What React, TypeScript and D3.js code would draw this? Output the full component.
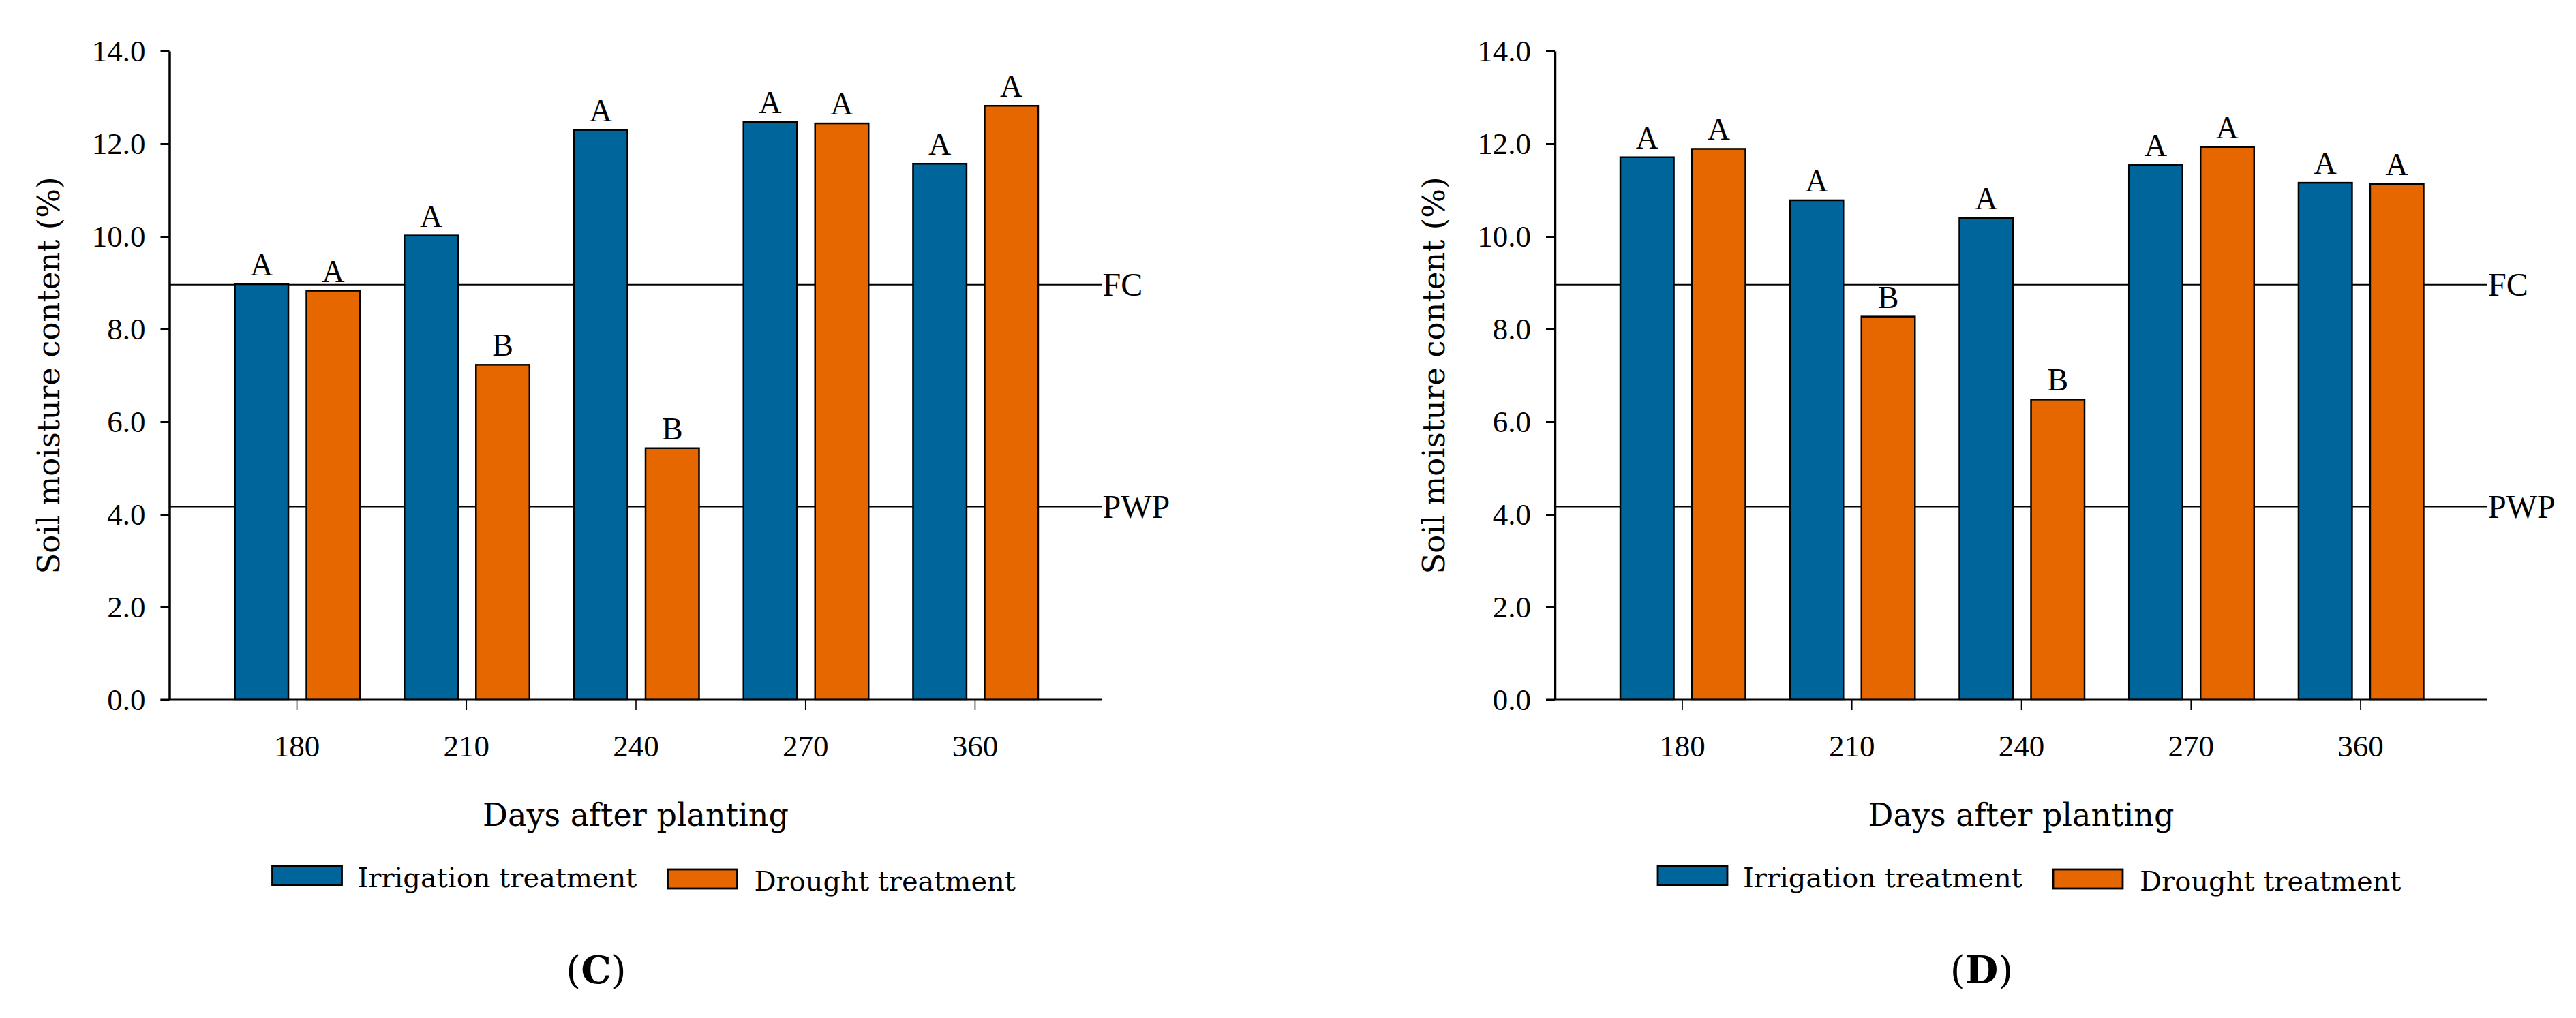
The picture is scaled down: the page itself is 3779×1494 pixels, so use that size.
import React, { useEffect, useRef } from "react";
import * as d3 from "d3";

// ---------- data ----------
const categories = ["180", "210", "240", "270", "360"];
const seriesNames = ["Irrigation treatment", "Drought treatment"];
const seriesColors = ["#00659B", "#E66700"];

const irrigationC = [8.97, 10.02, 12.3, 12.47, 11.57];
const droughtC = [8.83, 7.23, 5.43, 12.44, 12.82];
const lettersIrrC = ["A", "A", "A", "A", "A"];
const lettersDrC = ["A", "B", "B", "A", "A"];

const irrigationD = [11.71, 10.78, 10.4, 11.54, 11.16];
const droughtD = [11.89, 8.27, 6.48, 11.93, 11.13];
const lettersIrrD = ["A", "A", "A", "A", "A"];
const lettersDrD = ["A", "B", "B", "A", "A"];

const yTicks = [0, 2, 4, 6, 8, 10, 12, 14];
const refLabels = ["FC", "PWP"];
const refValues = [8.96, 4.17];

const panelLabels = ["C", "D"];
const xTitle = "Days after planting";
const yTitle = "Soil moisture content (%)";

// ---------- layout ----------
const W = 3779;
const H = 1494;
const TOP = 75;
const BOTTOM = 1027;
const PLOT_W = 1368;
const PANEL_X = [248.5, 2281];
const BAR_W = 78.5;

const NUM_FONT = "'Liberation Serif', 'Times New Roman', serif";
const TXT_FONT = "'DejaVu Serif', serif";

interface PanelProps {
  axisX: number;
  irr: number[];
  dr: number[];
  lIrr: string[];
  lDr: string[];
  label: string;
}

function Panel({ axisX, irr, dr, lIrr, lDr, label }: PanelProps) {
  const ref = useRef<SVGGElement>(null);

  useEffect(() => {
    const g = d3.select(ref.current);
    g.selectAll("*").remove();

    const x = d3
      .scalePoint<string>()
      .domain(categories)
      .range([axisX, axisX + PLOT_W])
      .padding(0.75);
    const y = d3.scaleLinear().domain([0, 14]).range([BOTTOM, TOP]);

    // reference lines
    refValues.forEach((v, i) => {
      g.append("line")
        .attr("x1", axisX)
        .attr("x2", axisX + PLOT_W)
        .attr("y1", y(v))
        .attr("y2", y(v))
        .attr("stroke", "#000")
        .attr("stroke-width", 2);
      g.append("text")
        .attr("x", axisX + PLOT_W + 1)
        .attr("y", y(v))
        .attr("dy", "0.34em")
        .attr("font-family", NUM_FONT)
        .attr("font-size", 48)
        .attr("fill", "#000")
        .text(refLabels[i]);
    });

    const series = [
      { vals: irr, letters: lIrr, off: -90.5, color: seriesColors[0] },
      { vals: dr, letters: lDr, off: 14.5, color: seriesColors[1] },
    ];

    series.forEach((s) => {
      const data = categories.map((c, i) => ({ c, v: s.vals[i], l: s.letters[i] }));
      g.append("g")
        .selectAll("rect")
        .data(data)
        .join("rect")
        .attr("x", (d) => (x(d.c) as number) + s.off)
        .attr("y", (d) => y(d.v))
        .attr("width", BAR_W)
        .attr("height", (d) => y(0) - y(d.v))
        .attr("fill", s.color)
        .attr("stroke", "#000")
        .attr("stroke-width", 2.5);
      g.append("g")
        .selectAll("text")
        .data(data)
        .join("text")
        .attr("x", (d) => (x(d.c) as number) + s.off + BAR_W / 2)
        .attr("y", (d) => y(d.v) - 13)
        .attr("text-anchor", "middle")
        .attr("font-family", NUM_FONT)
        .attr("font-size", 46)
        .attr("fill", "#000")
        .text((d) => d.l);
    });

    // y axis
    const ya = g
      .append("g")
      .attr("transform", `translate(${axisX},0)`)
      .call(
        d3
          .axisLeft(y)
          .tickValues(yTicks)
          .tickFormat(d3.format(".1f"))
          .tickSize(13)
          .tickSizeOuter(0)
          .tickPadding(22)
      );
    ya.select(".domain").attr("stroke", "#000").attr("stroke-width", 3.5);
    ya.selectAll(".tick line").attr("stroke", "#000").attr("stroke-width", 3);
    ya.selectAll(".tick text")
      .attr("font-family", NUM_FONT)
      .attr("font-size", 45)
      .attr("fill", "#000");

    // x axis
    const xa = g
      .append("g")
      .attr("transform", `translate(0,${BOTTOM})`)
      .call(d3.axisBottom(x).tickSize(15).tickSizeOuter(0).tickPadding(36));
    xa.select(".domain").remove();
    xa.selectAll(".tick line").attr("stroke", "#000").attr("stroke-width", 1.6);
    xa.selectAll(".tick text")
      .attr("font-family", NUM_FONT)
      .attr("font-size", 45)
      .attr("fill", "#000");
    g.append("line")
      .attr("x1", axisX - 13)
      .attr("x2", axisX + PLOT_W)
      .attr("y1", BOTTOM)
      .attr("y2", BOTTOM)
      .attr("stroke", "#000")
      .attr("stroke-width", 3);

    // titles
    g.append("text")
      .attr("x", axisX + PLOT_W / 2)
      .attr("y", 1212)
      .attr("text-anchor", "middle")
      .attr("font-family", TXT_FONT)
      .attr("font-size", 46)
      .attr("fill", "#000")
      .text(xTitle);
    g.append("text")
      .attr("transform", `translate(${axisX - 162},551) rotate(-90)`)
      .attr("text-anchor", "middle")
      .attr("font-family", TXT_FONT)
      .attr("font-size", 45)
      .attr("fill", "#000")
      .text(yTitle);

    // legend
    const legend = [
      { sx: 151, sy: 1271, sw: 102, tx: 276, ty: 1302 },
      { sx: 731, sy: 1276, sw: 102, tx: 858, ty: 1307 },
    ];
    legend.forEach((l, i) => {
      g.append("rect")
        .attr("x", axisX + l.sx)
        .attr("y", l.sy)
        .attr("width", l.sw)
        .attr("height", 28)
        .attr("fill", seriesColors[i])
        .attr("stroke", "#000")
        .attr("stroke-width", 2.8);
      g.append("text")
        .attr("x", axisX + l.tx)
        .attr("y", l.ty)
        .attr("font-family", TXT_FONT)
        .attr("font-size", 40)
        .attr("fill", "#000")
        .text(seriesNames[i]);
    });

    // panel label
    const pl = g
      .append("text")
      .attr("x", axisX + PLOT_W / 2 - 58)
      .attr("y", 1443)
      .attr("text-anchor", "middle")
      .attr("font-family", TXT_FONT)
      .attr("font-size", 56)
      .attr("fill", "#000");
    pl.append("tspan").text("(");
    pl.append("tspan").attr("font-weight", "bold").text(label);
    pl.append("tspan").text(")");
  }, [axisX, irr, dr, lIrr, lDr, label]);

  return <g ref={ref} />;
}

export default function App() {
  return (
    <svg
      width={W}
      height={H}
      viewBox={`0 0 ${W} ${H}`}
      style={{ position: "absolute", left: 0, top: 0, background: "#fff" }}
    >
      <rect x={0} y={0} width={W} height={H} fill="#fff" />
      <Panel
        axisX={PANEL_X[0]}
        irr={irrigationC}
        dr={droughtC}
        lIrr={lettersIrrC}
        lDr={lettersDrC}
        label={panelLabels[0]}
      />
      <Panel
        axisX={PANEL_X[1]}
        irr={irrigationD}
        dr={droughtD}
        lIrr={lettersIrrD}
        lDr={lettersDrD}
        label={panelLabels[1]}
      />
    </svg>
  );
}
